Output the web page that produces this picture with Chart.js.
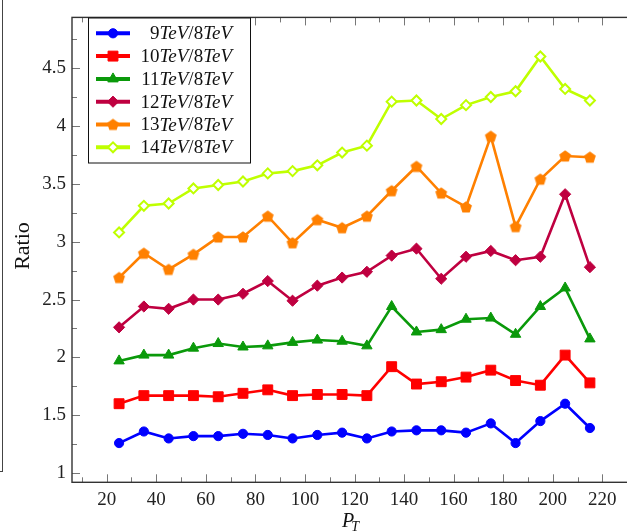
<!DOCTYPE html>
<html>
<head>
<meta charset="utf-8">
<script src="https://cdn.jsdelivr.net/npm/chart.js@4"></script>
<style>
  body { margin: 0; overflow: hidden; background: #fff; font-family: "Liberation Serif", "DejaVu Serif", serif; }
  #wrap { position: relative; width: 645px; height: 532px; }
  #edge { position: absolute; left: 0; top: 0; width: 2px; height: 471px;
          border-right: 1px solid #444; border-bottom: 1px solid #444; }
</style>
</head>
<body>
<div id="wrap">
  <canvas id="myChart"></canvas>
  <div id="edge"></div>
</div>
<script>
// transverse momentum bins
var pt = [25,35,45,55,65,75,85,95,105,115,125,135,145,155,165,175,185,195,205,215];

// ratios to 8 TeV
var r9  = [1.26,1.36,1.30,1.32,1.32,1.34,1.33,1.30,1.33,1.35,1.30,1.36,1.37,1.37,1.35,1.43,1.26,1.45,1.60,1.39];
var r10 = [1.60,1.67,1.67,1.67,1.66,1.69,1.72,1.67,1.68,1.68,1.67,1.92,1.77,1.79,1.83,1.89,1.80,1.76,2.02,1.78];
var r11 = [1.97,2.02,2.02,2.08,2.12,2.09,2.10,2.13,2.15,2.14,2.10,2.44,2.22,2.24,2.33,2.34,2.20,2.44,2.60,2.16];
var r12 = [2.26,2.44,2.42,2.50,2.50,2.55,2.66,2.49,2.62,2.69,2.74,2.88,2.94,2.68,2.87,2.92,2.84,2.87,3.41,2.78];
var r13 = [2.69,2.90,2.76,2.89,3.04,3.04,3.22,2.99,3.19,3.12,3.22,3.44,3.65,3.42,3.30,3.91,3.13,3.54,3.74,3.73];
var r14 = [3.08,3.31,3.33,3.46,3.49,3.52,3.59,3.61,3.66,3.77,3.83,4.21,4.22,4.06,4.18,4.25,4.30,4.60,4.32,4.22];

var names = ["9TeV/8TeV","10TeV/8TeV","11TeV/8TeV","12TeV/8TeV","13TeV/8TeV","14TeV/8TeV"];

var xTicks = [20,40,60,80,100,120,140,160,180,200,220];
var xMinor = [10,30,50,70,90,110,130,150,170,190,210,230];
var yTicks = [1,1.5,2,2.5,3,3.5,4,4.5];
var yMinor = [1.25,1.75,2.25,2.75,3.25,3.75,4.25,4.75];

var serif = "Liberation Serif, DejaVu Serif, serif";

// pentagon marker for the 13 TeV curve
function pentagon(color)
{
    var c = document.createElement("canvas");
    c.width = 14; c.height = 14;
    var g = c.getContext("2d");
    g.beginPath();
    for (var i = 0; i < 5; i++) {
        var a = -Math.PI / 2 + i * 2 * Math.PI / 5;
        var px = 7 + 6.2 * Math.cos(a), py = 7.5 + 6.2 * Math.sin(a);
        if (i == 0) g.moveTo(px, py); else g.lineTo(px, py);
    }
    g.closePath();
    g.fillStyle = color;
    g.fill();
    return c;
}

function series(vals, color, style, radius, fill)
{
    return {
        label: "",
        data: pt.map(function (x, i) { return { x: x, y: vals[i] }; }),
        borderColor: color,
        backgroundColor: color,
        borderWidth: 2.6,
        pointStyle: style,
        pointRadius: radius,
        pointBorderWidth: fill ? 1 : 2,
        pointBorderColor: color,
        pointBackgroundColor: fill ? color : "#fff",
        tension: 0
    };
}

var sets = [
    series(r9,  "#0000ff", "circle",   4.6, true),
    series(r10, "#ff0000", "rect",     7,   true),
    series(r11, "#0a990a", "triangle", 6,   true),
    series(r12, "#bf0040", "rectRot",  5.6, true),
    series(r13, "#ff8000", pentagon("#ff8000"), 6, true),
    series(r14, "#bfff00", "rectRot",  5,   false)
];

// mixed upright / italic label like TeX math
function mathText(ctx, str, right, y, size)
{
    var parts = str.match(/[A-Za-z]+|[^A-Za-z]+/g);
    var w = 0;
    parts.forEach(function (p) {
        ctx.font = (/[A-Za-z]/.test(p) ? "italic " : "") + size + "px " + serif;
        w += ctx.measureText(p).width;
    });
    var x = right - w;
    parts.forEach(function (p) {
        ctx.font = (/[A-Za-z]/.test(p) ? "italic " : "") + size + "px " + serif;
        ctx.fillText(p, x, y);
        x += ctx.measureText(p).width;
    });
}

var frame = {
    id: "frame",
    afterDraw: function (chart) {
        var ctx = chart.ctx, a = chart.chartArea;
        var xs = chart.scales.x, ys = chart.scales.y;
        ctx.save();

        // inward ticks
        ctx.strokeStyle = "#777";
        ctx.lineWidth = 1;
        ctx.beginPath();
        xTicks.concat(xMinor).forEach(function (v) {
            var len = xTicks.indexOf(v) >= 0 ? 8 : 5;
            var px = Math.round(xs.getPixelForValue(v)) + 0.5;
            ctx.moveTo(px, a.bottom); ctx.lineTo(px, a.bottom - len);
            ctx.moveTo(px, a.top); ctx.lineTo(px, a.top + len);
        });
        yTicks.concat(yMinor).forEach(function (v) {
            var len = yTicks.indexOf(v) >= 0 ? 8 : 5;
            var py = Math.round(ys.getPixelForValue(v)) + 0.5;
            ctx.moveTo(a.left, py); ctx.lineTo(a.left + len, py);
            ctx.moveTo(a.right, py); ctx.lineTo(a.right - len, py);
        });
        ctx.stroke();

        // axis box
        ctx.strokeStyle = "#333";
        ctx.lineWidth = 1.4;
        ctx.strokeRect(a.left, a.top, a.right - a.left, a.bottom - a.top);

        // legend
        var lx = 88.5, ly = 18, lw = 162, lh = 145;
        ctx.fillStyle = "#fff";
        ctx.fillRect(lx, ly, lw, lh);
        ctx.strokeStyle = "#111";
        ctx.lineWidth = 1;
        ctx.strokeRect(lx, ly, lw, lh);
        ctx.textBaseline = "middle";
        sets.forEach(function (d, i) {
            var y = 33.3 + i * 22.8;
            ctx.strokeStyle = d.borderColor;
            ctx.lineWidth = 4;
            ctx.beginPath();
            ctx.moveTo(96, y); ctx.lineTo(130, y);
            ctx.stroke();
            ctx.fillStyle = d.pointBackgroundColor;
            ctx.strokeStyle = d.pointBorderColor;
            ctx.lineWidth = d.pointBorderWidth;
            Chart.helpers.drawPoint(ctx, {
                pointStyle: d.pointStyle, radius: d.pointRadius,
                rotation: 0, borderWidth: d.pointBorderWidth
            }, 113, y);
            ctx.fillStyle = "#111";
            mathText(ctx, names[i], 232, y + 1, 19);
        });

        // axis titles
        ctx.fillStyle = "#111";
        ctx.save();
        ctx.translate(23, 246);
        ctx.rotate(-Math.PI / 2);
        ctx.textAlign = "center";
        ctx.font = "22px " + serif;
        ctx.fillText("Ratio", 0, 0);
        ctx.restore();

        ctx.textAlign = "left";
        ctx.textBaseline = "alphabetic";
        ctx.font = "italic 20px " + serif;
        ctx.fillText("P", 342, 527);
        var pw = ctx.measureText("P").width;
        ctx.font = "italic 14px " + serif;
        ctx.fillText("T", 342 + pw - 3, 531);

        ctx.restore();
    }
};

const ctx = document.getElementById('myChart');
new Chart(ctx, {
    type: 'line',
    data: { datasets: sets },
    options: {
        responsive: true,
        maintainAspectRatio: false,
        animation: false,
        layout: { padding: { top: 5, right: 5.5, left: 0, bottom: 0 } },
        plugins: { legend: { display: false }, tooltip: { enabled: false } },
        scales: {
            x: {
                type: 'linear',
                min: 6,
                max: 234,
                afterBuildTicks: function (s) { s.ticks = xTicks.map(function (v) { return { value: v }; }); },
                afterFit: function (s) { s.height = 49.7; },
                grid: { display: false, drawTicks: false },
                border: { display: false },
                ticks: { color: "#222", padding: 6, maxRotation: 0, autoSkip: false,
                         font: { family: serif, size: 19 } }
            },
            y: {
                min: 0.921,
                max: 4.938,
                afterBuildTicks: function (s) { s.ticks = yTicks.map(function (v) { return { value: v }; }); },
                afterFit: function (s) { s.width = 72; },
                grid: { display: false, drawTicks: false },
                border: { display: false },
                ticks: { color: "#222", padding: 6, autoSkip: false,
                         font: { family: serif, size: 19 },
                         callback: function (v) { return String(v); } }
            }
        }
    },
    plugins: [frame]
});
</script>
</body>
</html>
